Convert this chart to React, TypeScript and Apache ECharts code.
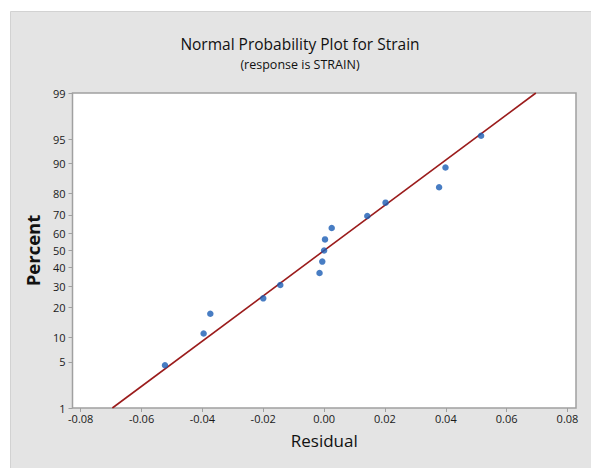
import React, { useEffect, useRef } from "react";
import * as echarts from "echarts";

const percents = [4.5, 11, 17.5, 24, 30.5, 37, 43.5, 50, 56.5, 63, 69.5, 76, 82.5, 89, 95.5];
const residuals = [-0.0523, -0.0396, -0.0374, -0.02, -0.0144, -0.0015, -0.0006, 0.0, 0.0003, 0.0025, 0.0142, 0.0202, 0.0378, 0.0399, 0.0516];
const yTickPercents = [1, 5, 10, 20, 30, 40, 50, 60, 70, 80, 90, 95, 99];
const xTicks = [-0.08, -0.06, -0.04, -0.02, 0, 0.02, 0.04, 0.06, 0.08];
const fitLineX = [-0.0696, 0.0696];
const fitLinePercent = [1, 99];

// inverse standard normal CDF (Acklam)
function probit(p: number): number {
  const a = [-3.969683028665376e1, 2.209460984245205e2, -2.759285104469687e2, 1.38357751867269e2, -3.066479806614716e1, 2.506628277459239];
  const b = [-5.447609879822406e1, 1.615858368580409e2, -1.556989798598866e2, 6.680131188771972e1, -1.328068155288572e1];
  const c = [-7.784894002430293e-3, -3.223964580411365e-1, -2.400758277161838, -2.549732539343734, 4.374664141464968, 2.938163982698783];
  const d = [7.784695709041462e-3, 3.224671290700398e-1, 2.445134137142996, 3.754408661907416];
  const pl = 0.02425;
  let q: number, r: number;
  if (p < pl) {
    q = Math.sqrt(-2 * Math.log(p));
    return (((((c[0] * q + c[1]) * q + c[2]) * q + c[3]) * q + c[4]) * q + c[5]) / ((((d[0] * q + d[1]) * q + d[2]) * q + d[3]) * q + 1);
  } else if (p <= 1 - pl) {
    q = p - 0.5;
    r = q * q;
    return ((((((a[0] * r + a[1]) * r + a[2]) * r + a[3]) * r + a[4]) * r + a[5]) * q) / (((((b[0] * r + b[1]) * r + b[2]) * r + b[3]) * r + b[4]) * r + 1);
  } else {
    q = Math.sqrt(-2 * Math.log(1 - p));
    return -(((((c[0] * q + c[1]) * q + c[2]) * q + c[3]) * q + c[4]) * q + c[5]) / ((((d[0] * q + d[1]) * q + d[2]) * q + d[3]) * q + 1);
  }
}

export default function App() {
  const ref = useRef<HTMLDivElement>(null);
  useEffect(() => {
    if (!ref.current) return;
    const chart = echarts.init(ref.current, null, { renderer: "svg" });
    const yTickZ = yTickPercents.map((p) => probit(p / 100));
    const font = "'Open Sans', 'Segoe UI', sans-serif";
    const pts = residuals.map((r, i) => [r, probit(percents[i] / 100)]);
    const linePts = fitLineX.map((x, i) => [x, probit(fitLinePercent[i] / 100)]);
    chart.setOption({
      animation: false,
      backgroundColor: "#ffffff",
      graphic: [
        {
          type: "rect",
          shape: { x: 10.5, y: 11.5, width: 590, height: 470 },
          style: { fill: "#e4e4e4", stroke: "#d2d2d2", lineWidth: 1 },
          z: -10,
        },
        {
          type: "text",
          x: 300,
          y: 44,
          style: { text: "Normal Probability Plot for Strain", fontSize: 15.5, fontFamily: font, fill: "#111", align: "center", verticalAlign: "middle" },
        },
        {
          type: "text",
          x: 300,
          y: 64,
          style: { text: "(response is STRAIN)", fontSize: 12.5, fontFamily: font, fill: "#111", align: "center", verticalAlign: "middle" },
        },
      ],
      grid: {
        left: 72.5,
        top: 93,
        right: 15,
        bottom: 60,
        show: true,
        backgroundColor: "#ffffff",
        borderColor: "#a0a0a0",
        borderWidth: 1.5,
      },
      xAxis: {
        type: "value",
        min: -0.0827,
        max: 0.0828,
        name: "Residual",
        nameLocation: "middle",
        nameGap: 24,
        nameTextStyle: { fontSize: 17, fontFamily: font, color: "#111" },
        axisLine: { show: false, onZero: false },
        splitLine: { show: false },
        axisTick: { show: true, customValues: xTicks, length: 4, lineStyle: { color: "#a0a0a0" } },
        axisLabel: {
          customValues: xTicks,
          formatter: (v: number) => v.toFixed(2),
          fontSize: 11,
          fontFamily: font,
          color: "#1a1a1a",
          margin: 5,
        },
      },
      yAxis: {
        type: "value",
        min: probit(0.01),
        max: probit(0.99),
        name: "Percent",
        nameLocation: "middle",
        nameGap: 28,
        nameTextStyle: { fontSize: 18.5, fontWeight: "bold", fontFamily: font, color: "#111" },
        axisLine: { show: false, onZero: false },
        splitLine: { show: false },
        axisTick: { show: true, customValues: yTickZ, length: 4, lineStyle: { color: "#a0a0a0" } },
        axisLabel: {
          customValues: yTickZ,
          formatter: (v: number) => {
            let best = 0;
            let bd = Infinity;
            yTickZ.forEach((z, i) => {
              const dd = Math.abs(z - v);
              if (dd < bd) {
                bd = dd;
                best = i;
              }
            });
            return String(yTickPercents[best]);
          },
          fontSize: 11,
          fontFamily: font,
          color: "#1a1a1a",
          margin: 7,
        },
      },
      series: [
        {
          type: "line",
          data: linePts,
          symbol: "none",
          lineStyle: { color: "#9b1c1c", width: 1.6 },
          z: 2,
        },
        {
          type: "scatter",
          data: pts,
          symbol: "circle",
          symbolSize: 6.5,
          itemStyle: { color: "#1a5cb4" },
          z: 3,
        },
      ],
    });
    return () => chart.dispose();
  }, []);
  return <div ref={ref} style={{ position: "fixed", left: 0, top: 0, width: 591, height: 468 }} />;
}
